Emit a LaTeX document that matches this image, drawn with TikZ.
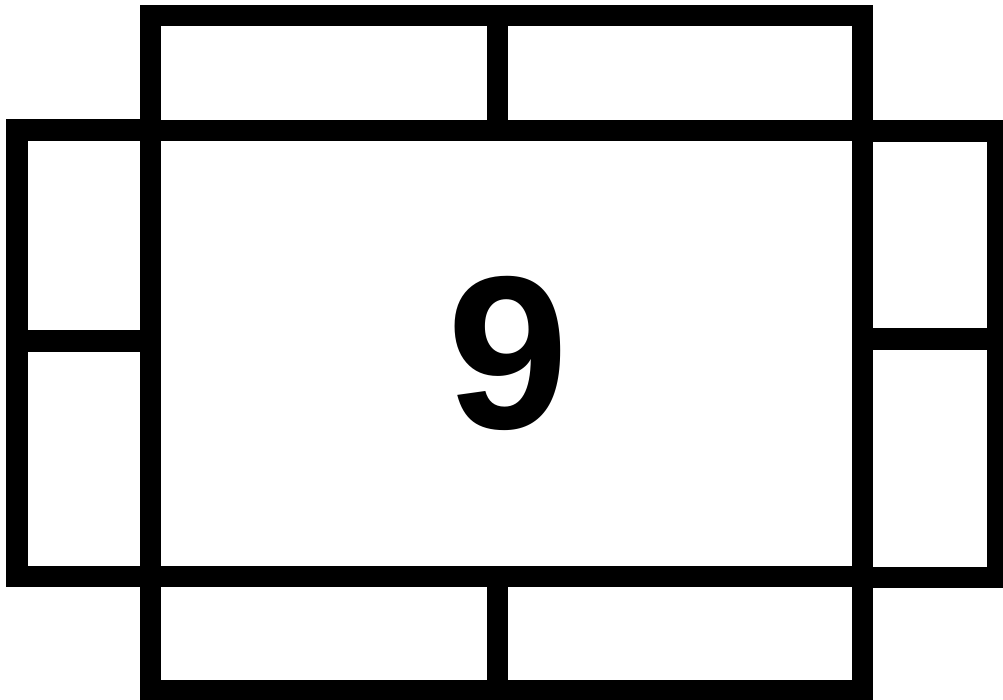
\documentclass[tikz,border=0pt]{standalone}
\usepackage{fontspec}
\setmainfont{Liberation Sans}
\tikzstyle{panel} = [
    draw=black,
    line width=2.1mm
]
\tikzstyle{digit} = [
    font=\fontsize{62}{62}\selectfont\bfseries,
    inner sep=0pt,
    anchor=base
]

\begin{document}
\begin{tikzpicture}[x=0.01cm, y=-0.01cm]
\useasboundingbox (0,0) rectangle (1003,700);

% centre face
\draw [panel] (150.5,130.5) rectangle (862.5,576);

% top flap
\draw [panel] (150.5,15.5) rectangle (862.5,130.5);
\draw [panel] (497,15.5) -- (497,130.5);

% bottom flap
\draw [panel] (150.5,576) rectangle (862.5,690.5);
\draw [panel] (497,576) -- (497,690.5);

% left flap
\draw [panel] (17,130) rectangle (150.5,576.5);
\draw [panel] (17,341) -- (150.5,341);

% right flap
\draw [panel] (862.5,131) rectangle (997,577.5);
\draw [panel] (862.5,339) -- (997,339);

\node (number) [digit] at (508,428) {9};

\end{tikzpicture}
\end{document}
